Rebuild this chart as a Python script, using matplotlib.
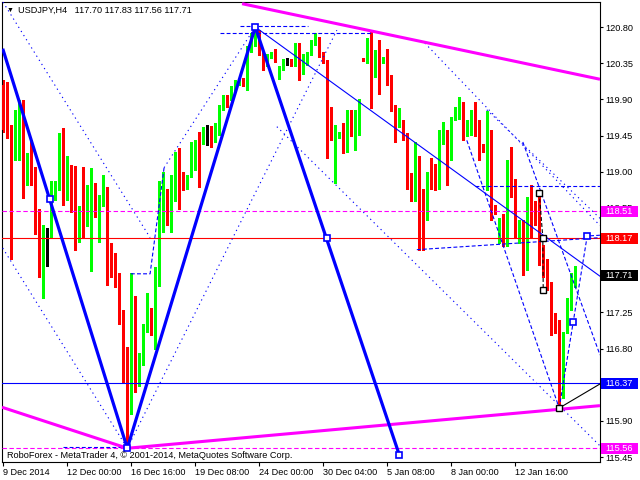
import matplotlib
matplotlib.use('Agg')
import matplotlib.pyplot as plt
from matplotlib.patches import Rectangle
import numpy as np

plt.rcParams['font.family'] = ['Liberation Sans', 'DejaVu Sans']
plt.rcParams['lines.scale_dashes'] = False

# ---------------- data (USDJPY H4) ----------------
opens = [120.08, 120.06, 119.57, 119.26, 119.63, 119.83, 119.05, 119.11, 118.94, 118.47,
         117.80, 118.22, 118.20, 118.69, 118.77, 119.34, 118.66, 119.06, 118.86, 118.34,
         118.44, 118.38, 118.65, 118.84, 118.54, 118.59, 118.61, 118.09, 117.82, 117.66,
         117.19, 116.51, 116.06, 117.28, 116.39, 116.70, 117.03, 117.05, 117.01, 117.61,
         118.63, 118.71, 118.44, 118.65, 119.21, 118.90, 118.83, 118.98, 119.04, 119.48,
         119.40, 119.48, 119.52, 119.40, 119.50, 119.79, 119.91, 119.91, 120.02, 120.10,
         120.12, 120.08, 120.51, 120.58, 120.74, 120.47, 120.33, 120.43, 120.48, 120.16,
         120.29, 120.37, 120.38, 120.33, 120.58, 120.33, 120.35, 120.47, 120.60, 120.63,
         120.47, 120.38, 119.66, 119.43, 119.44, 119.58, 119.27, 119.71, 119.46, 119.58,
         120.41, 120.40, 120.59, 120.20, 120.53, 120.37, 120.40, 120.19, 119.80, 119.58,
         119.62, 119.44, 118.94, 118.81, 119.00, 118.46, 118.41, 119.02, 118.86, 118.80,
         119.39, 119.48, 119.23, 119.66, 119.68, 119.75, 119.46, 119.52, 119.62, 119.56,
         119.31, 119.31, 119.51, 118.54, 118.25, 118.37, 118.09, 119.13, 118.86, 118.28,
         118.34, 117.84, 118.66, 118.50, 118.44, 117.94, 117.90, 117.55, 117.09, 117.01,
         116.31, 117.01, 117.32, 117.70]
highs = [120.14, 120.12, 119.58, 119.77, 119.89, 119.89, 119.23, 119.40, 119.06, 118.54,
         118.34, 118.30, 118.88, 118.88, 119.48, 119.54, 119.20, 119.08, 119.07, 118.57,
         119.06, 118.83, 119.04, 118.86, 118.71, 118.96, 118.81, 118.11, 117.99, 117.74,
         117.28, 116.82, 117.74, 117.45, 116.74, 117.11, 117.49, 117.30, 117.82, 118.88,
         119.00, 118.79, 118.96, 119.25, 119.29, 119.00, 118.96, 119.37, 119.40, 119.50,
         119.56, 119.58, 119.57, 119.60, 119.83, 119.95, 119.95, 120.06, 120.14, 120.15,
         120.16, 120.56, 120.72, 120.80, 120.76, 120.49, 120.47, 120.49, 120.53, 120.31,
         120.40, 120.42, 120.40, 120.60, 120.60, 120.47, 120.49, 120.64, 120.72, 120.68,
         120.49, 120.39, 119.81, 119.58, 119.50, 119.60, 119.77, 119.77, 119.77, 119.91,
         120.42, 120.66, 120.74, 120.51, 120.64, 120.43, 120.53, 120.20, 119.83, 119.79,
         119.64, 119.48, 118.98, 119.37, 119.19, 118.79, 119.00, 119.17, 119.10, 119.52,
         119.62, 119.52, 119.68, 119.80, 119.93, 119.87, 119.64, 119.77, 119.87, 119.64,
         119.35, 119.75, 119.52, 118.59, 118.42, 118.48, 119.15, 119.31, 118.91, 118.40,
         118.40, 118.69, 118.83, 118.63, 118.75, 118.09, 117.92, 117.63, 117.24, 117.16,
         117.01, 117.43, 117.74, 117.83]
lows = [119.50, 119.42, 117.92, 119.15, 119.15, 118.67, 118.83, 118.83, 118.23, 117.69,
        117.43, 117.83, 118.19, 118.65, 118.77, 118.59, 118.65, 118.50, 118.03, 118.13,
        118.17, 118.32, 117.76, 118.44, 118.13, 118.57, 117.59, 117.69, 117.57, 117.11,
        116.37, 115.56, 115.99, 116.26, 116.33, 116.60, 117.01, 116.97, 116.80, 117.58,
        118.25, 118.34, 118.25, 118.63, 118.54, 118.77, 118.79, 118.94, 119.02, 118.81,
        119.35, 119.33, 119.31, 119.37, 119.46, 119.77, 119.81, 119.89, 120.00, 120.08,
        120.06, 120.02, 120.49, 120.56, 120.45, 120.27, 120.31, 120.41, 120.37, 120.15,
        120.27, 120.33, 120.31, 120.31, 120.14, 120.22, 120.33, 120.45, 120.58, 120.43,
        120.35, 119.17, 119.40, 118.86, 119.42, 119.23, 119.25, 119.44, 119.27, 119.46,
        120.38, 120.35, 119.79, 120.18, 119.97, 120.35, 120.08, 119.75, 119.37, 119.56,
        119.40, 118.79, 118.63, 118.63, 118.03, 118.03, 118.40, 118.79, 118.77, 118.79,
        119.35, 118.83, 119.15, 119.64, 119.66, 119.40, 119.44, 119.46, 119.44, 119.15,
        119.25, 118.77, 118.40, 118.48, 118.11, 118.08, 118.07, 118.69, 118.17, 118.11,
        117.72, 117.78, 118.19, 118.34, 117.84, 117.69, 117.53, 116.97, 116.99, 116.06,
        116.18, 116.99, 117.28, 117.56]
closes = [119.52, 119.44, 119.28, 119.69, 119.81, 119.05, 119.11, 118.95, 118.48, 117.80,
          118.23, 118.22, 118.71, 118.79, 119.36, 118.64, 119.07, 118.86, 118.34, 118.42,
          118.38, 118.80, 118.83, 118.54, 118.61, 118.61, 118.09, 117.80, 117.65, 117.18,
          116.51, 116.06, 117.28, 116.39, 116.70, 117.05, 117.06, 116.99, 117.61, 118.65,
          118.71, 118.44, 118.65, 119.23, 119.00, 118.81, 118.88, 119.35, 119.37, 119.04,
          119.50, 119.48, 119.42, 119.50, 119.82, 119.93, 119.86, 120.02, 120.10, 120.13,
          120.07, 120.51, 120.61, 120.66, 120.47, 120.33, 120.42, 120.47, 120.41, 120.29,
          120.38, 120.37, 120.35, 120.58, 120.15, 120.41, 120.47, 120.60, 120.65, 120.45,
          120.37, 119.66, 119.42, 119.46, 119.46, 119.25, 119.71, 119.46, 119.61, 119.85,
          120.39, 120.59, 120.22, 120.47, 120.37, 120.40, 120.20, 119.81, 119.59, 119.62,
          119.44, 118.94, 118.81, 118.98, 118.46, 118.35, 118.99, 118.86, 118.80, 119.40,
          119.47, 119.23, 119.66, 119.69, 119.73, 119.44, 119.52, 119.64, 119.56, 119.29,
          119.29, 119.50, 118.54, 118.50, 118.38, 118.11, 119.13, 118.84, 118.28, 118.35,
          117.84, 118.65, 118.52, 118.44, 117.94, 117.89, 117.55, 117.09, 117.01, 116.31,
          117.01, 117.32, 117.69, 117.71]

x_tick_bars = [0, 16, 32, 48, 64, 80, 96, 112, 128]
x_tick_labels = ['9 Dec 2014', '12 Dec 00:00', '16 Dec 16:00', '19 Dec 08:00', '24 Dec 00:00',
                 '30 Dec 04:00', '5 Jan 08:00', '8 Jan 00:00', '12 Jan 16:00']
y_tick_values = [120.80, 120.35, 119.90, 119.45, 119.00, 118.55, 117.25, 116.80, 115.90, 115.45]

# analysis objects (bar index, price)
zigzag = [(-0.15, 120.53), (31, 115.56), (63, 120.80), (99, 115.48)]
trend_high = [(63, 120.80), (149.2, 117.70)]
magenta_top = [(59.7, 121.09), (149.2, 120.15)]
magenta_bottom = [(-0.33, 116.07), (31, 115.56), (149.2, 116.09)]
dotted_lines = [
    [(-0.08, 121.11), (36.7, 118.18)],
    [(-0.15, 118.05), (31, 115.56)],
    [(31, 115.56), (83.4, 120.76)],
    [(40.2, 119.05), (63, 120.80)],
    [(68.4, 119.56), (149.2, 115.59)],
    [(105.4, 120.60), (149.2, 118.33)],
    [(120.9, 119.77), (149.2, 118.42)],
]
dashed_lines = [
    [(31.9, 117.73), (36.7, 117.73), (40.2, 119.05)],
    [(59.2, 120.81), (76.2, 120.81)],
    [(54.2, 120.73), (92.2, 120.73)],
    [(117.9, 118.82), (149.2, 118.82)],
    [(103.4, 118.03), (134.2, 118.13), (149.2, 118.18)],
    [(115.9, 119.39), (139, 116.06)],
    [(129.9, 119.37), (149.2, 116.72)],
    [(139, 116.06), (142.5, 117.13), (146, 118.20), (149.2, 118.21)],
    [(15, 115.57), (31, 115.57)],
]
black_dashed = [(134, 118.74), (134.9, 118.18), (135, 117.53)]
black_solid = [(139, 116.06), (149.2, 116.36)]
blue_squares = [(63, 120.80), (31, 115.56), (11.7, 118.66), (81, 118.17), (99, 115.48),
                (142.5, 117.13), (146, 118.20)]
black_squares = [(134, 118.74), (135, 117.53), (134.9, 118.18), (139, 116.06)]

level_red = 118.17
level_blue = 116.37
level_mag_hi = 118.51
level_mag_lo = 115.56
price_boxes = [(118.51, '#FF00FF'), (118.17, '#FF0000'), (117.71, '#000000'),
               (116.37, '#0000FF'), (115.56, '#FF00FF')]

# ---------------- figure ----------------
W, H = 640, 480
fig = plt.figure(figsize=(W / 100, H / 100), dpi=100)
fig.patch.set_facecolor('white')
ax = fig.add_axes([2 / W, 18 / H, 598 / W, 460 / H])
ax.set_xlim(-0.33, 149.2)
ax.set_ylim(115.389, 121.111)
for s in ax.spines.values():
    s.set_linewidth(0.8)
    s.set_color('black')

BLUE, MAG, RED, LIME = '#0000FF', '#FF00FF', '#FF0000', '#00FF00'

# candles
o = np.array(opens); h = np.array(highs); l = np.array(lows); c = np.array(closes)
idx = np.arange(len(o))
cols = [LIME if cc > oo else (RED if cc < oo else '#000000') for oo, cc in zip(o, c)]
ax.vlines(idx, l, h, colors=cols, linewidth=0.75, antialiased=False, zorder=2)
ax.bar(idx, np.maximum(np.abs(c - o), 0.012), bottom=np.minimum(o, c), width=0.75,
       color=cols, linewidth=0, antialiased=False, zorder=3)

# horizontal levels
ax.axhline(level_red, color=RED, lw=0.8, zorder=4)
ax.axhline(level_blue, color=BLUE, lw=0.8, zorder=4)
ax.axhline(level_mag_hi, color=MAG, lw=0.8, ls=(0, (3.2, 1.8)), zorder=4)
ax.axhline(level_mag_lo, color=MAG, lw=0.8, ls=(0, (3.2, 1.8)), zorder=4)

def draw(pts, **kw):
    xs, ys = zip(*pts)
    ax.plot(xs, ys, **kw)

for ln in dotted_lines:
    draw(ln, color=BLUE, lw=0.8, ls=(0, (0.9, 2.6)), zorder=5)
for ln in dashed_lines:
    draw(ln, color=BLUE, lw=0.8, ls=(0, (2.8, 1.6)), zorder=5)
draw(black_dashed, color='black', lw=0.8, ls=(0, (2.8, 1.6)), zorder=5)
draw(black_solid, color='black', lw=0.8, zorder=5)
draw(trend_high, color=BLUE, lw=0.8, zorder=5)
draw(magenta_top, color=MAG, lw=2.2, zorder=6, solid_capstyle='butt')
draw(magenta_bottom, color=MAG, lw=2.2, zorder=6, solid_capstyle='butt')
draw(zigzag, color=BLUE, lw=2.3, zorder=6, solid_capstyle='butt')
bx, by = zip(*blue_squares)
ax.plot(bx, by, ls='none', marker='s', ms=4.2, mfc='white', mec=BLUE, mew=1.2, zorder=7)
kx, ky = zip(*black_squares)
ax.plot(kx, ky, ls='none', marker='s', ms=4.2, mfc='white', mec='black', mew=1.0, zorder=7)

# axes ticks
ax.yaxis.tick_right()
ax.set_yticks(y_tick_values)
ax.set_yticklabels(['%.2f' % v for v in y_tick_values])
ax.tick_params(axis='y', length=2.2, width=0.8, pad=1.5, labelsize=6.6, colors='black')
ax.set_xticks(x_tick_bars)
ax.set_xticklabels(x_tick_labels)
ax.tick_params(axis='x', length=2.9, width=0.8, pad=1.2, labelsize=6.6, colors='black')
for t in ax.get_xticklabels():
    t.set_horizontalalignment('left')

# price boxes on the right scale
fig.canvas.draw()
for price, col in price_boxes:
    yd = ax.transData.transform((0, price))[1]
    fig.add_artist(Rectangle((601 / W, (yd - 5.5) / H), 37 / W, 11 / H,
                             transform=fig.transFigure, fc=col, ec='none', zorder=10))
    fig.text(605 / W, yd / H, '%.2f' % price, color='white', fontsize=6.6,
             va='center', ha='left', zorder=11)

# header and footer text
fig.text(10 / W, 1 - 10 / H, '\u25BC', fontsize=5, ha='center', va='center', color='black')
fig.text(18 / W, 1 - 10 / H, 'USDJPY,H4   117.70 117.83 117.56 117.71', fontsize=6.6,
         ha='left', va='center', color='black')
fig.text(7 / W, 1 - 455 / H, 'RoboForex - MetaTrader 4, \u00A9 2001-2014, MetaQuotes Software Corp.',
         fontsize=6.6, ha='left', va='center', color='black')

fig.savefig('out.png', dpi=100, facecolor='white')
